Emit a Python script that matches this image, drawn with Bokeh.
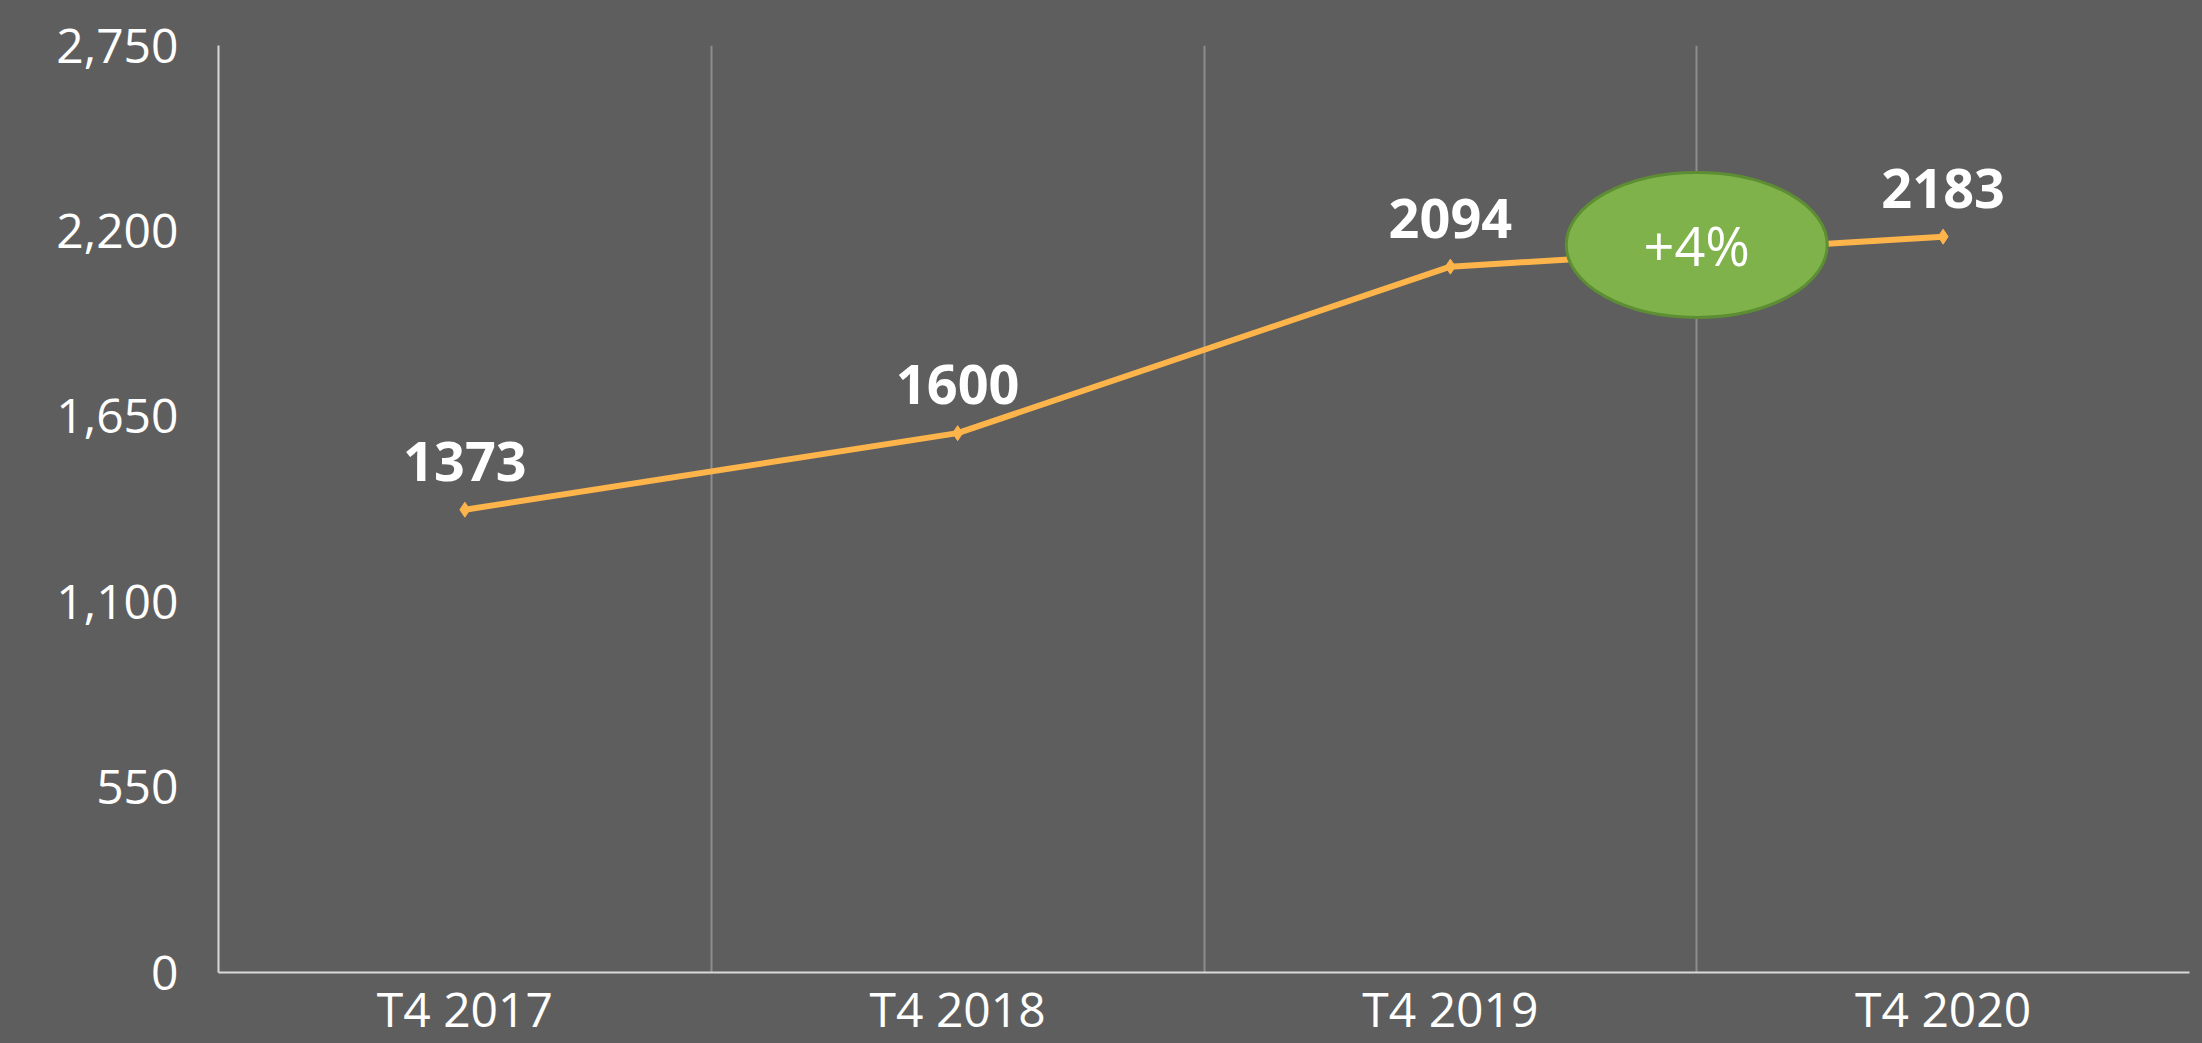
from bokeh.plotting import figure
from bokeh.models import Range1d, FixedTicker, NumeralTickFormatter, ColumnDataSource, GlobalInlineStyleSheet
from bokeh.core.properties import value
from bokeh.embed import file_html
from bokeh.resources import INLINE

categories = ["T4 2017", "T4 2018", "T4 2019", "T4 2020"]
values = [1373, 1600, 2094, 2183]
y_ticks = [0, 550, 1100, 1650, 2200, 2750]
change_label = "+4%"

BG = "#5E5E5E"
ORANGE = "#FDB44B"
FONT = "Open Sans"

xs = [i + 0.5 for i in range(len(categories))]
src = ColumnDataSource(dict(x=xs, y=values, label=[str(v) for v in values]))

p = figure(width=2202, height=1043, output_backend="svg", toolbar_location=None,
           x_range=Range1d(0, len(categories)), y_range=Range1d(0, y_ticks[-1]),
           min_border_left=218, min_border_right=13, min_border_top=45, min_border_bottom=71)
p.stylesheets = [GlobalInlineStyleSheet(css="html, body { margin: 0; padding: 0; overflow: hidden; background: %s; }" % BG)]
p.background_fill_color = BG
p.border_fill_color = BG
p.outline_line_color = None

# axes
p.xaxis.ticker = FixedTicker(ticks=xs)
p.xaxis.major_label_overrides = {x: c for x, c in zip(xs, categories)}
p.yaxis.ticker = FixedTicker(ticks=y_ticks)
p.yaxis.formatter = NumeralTickFormatter(format="0,0")
for ax in (p.xaxis, p.yaxis):
    ax.axis_line_color = "#D9D9D9"
    ax.axis_line_width = 2
    ax.major_tick_line_color = None
    ax.minor_tick_line_color = None
    ax.major_tick_out = 0
    ax.major_tick_in = 0
    ax.major_label_text_color = "white"
    ax.major_label_text_font = FONT
    ax.major_label_text_font_size = "48px"
p.xaxis.major_label_standoff = 3
p.yaxis.major_label_standoff = 40

# grids
p.ygrid.grid_line_color = None
p.xgrid.ticker = FixedTicker(ticks=list(range(len(categories) + 1)))
p.xgrid.grid_line_color = "#8C8C8C"
p.xgrid.grid_line_width = 2

# series
p.line("x", "y", source=src, line_color=ORANGE, line_width=6)
p.scatter("x", "y", source=src, marker="diamond", size=15, color=ORANGE)
p.text("x", "y", text="label", source=src, text_align="center", text_baseline="bottom",
       y_offset=-29, text_color="white", text_font=value(FONT), text_font_style="bold",
       text_font_size="54px")

# change bubble between the last two points
ex = (xs[-2] + xs[-1]) / 2
ey = (values[-2] + values[-1]) / 2 + 20
p.ellipse(x=[ex], y=[ey], width=261, height=145, width_units="screen", height_units="screen",
          fill_color="#7FB24B", line_color="#5D8E33", line_width=3)
p.text(x=[ex], y=[ey], text=[change_label], text_align="center", text_baseline="middle",
       text_color="white", text_font=value(FONT), text_font_size="54px")

open("out.html", "w").write(file_html(p, INLINE))
